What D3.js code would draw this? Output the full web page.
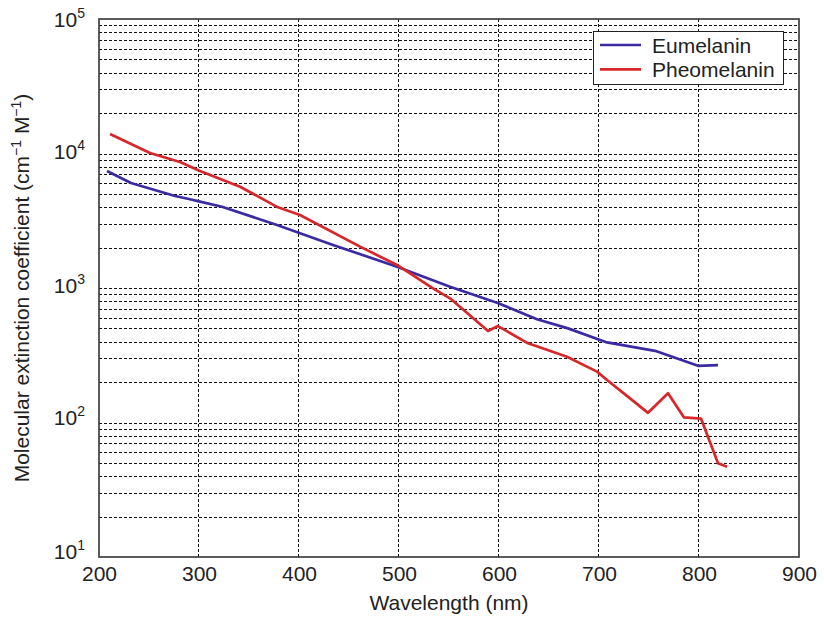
<!DOCTYPE html>
<html>
<head>
<meta charset="utf-8">
<script src="https://cdn.jsdelivr.net/npm/d3@7"></script>
<style>
  body { margin: 0; background: #fff; }
  svg { display: block; font-family: "Liberation Sans", Arial, Helvetica, sans-serif; }
</style>
</head>
<body>
<svg id="chart" width="824" height="617"></svg>
<script>
// ---- data ----
const seriesNames = ["Eumelanin", "Pheomelanin"];
const euWavelength = [208, 232, 276, 291, 301, 323, 378, 434, 498, 551, 598, 638, 669, 708, 756, 799, 819];
const euValues     = [7410, 6040, 4830, 4570, 4390, 4020, 2940, 2090, 1440, 1023, 778, 585, 501, 394, 341, 264, 267];
const pheoWavelength = [211, 251, 281, 301, 341, 379, 401, 461, 498, 534, 551, 589, 599, 629, 668, 698, 708, 731, 749, 769, 785, 802, 819, 828];
const pheoValues     = [13960, 10100, 8650, 7410, 5660, 3980, 3490, 2030, 1483, 995, 838, 479, 521, 388, 308, 239, 207, 151, 118, 165, 109, 107, 49.8, 46.9];
const xTicks = [200, 300, 400, 500, 600, 700, 800, 900];
const yTicks = [10, 100, 1000, 10000, 100000];
const yExponents = ["1", "2", "3", "4", "5"];
const xLabel = "Wavelength (nm)";

// ---- layout ----
const svg = d3.select("#chart");
const m = { left: 99, right: 25, top: 19, bottom: 60 };
const W = 824, H = 617;
const x = d3.scaleLinear().domain([200, 900]).range([m.left, W - m.right]);
const y = d3.scaleLog().domain([10, 100000]).range([H - m.bottom, m.top]);
const colors = ["#3b2ba3", "#d8272a"];
const FS = 21;

// grid lines
const g = svg.append("g");
g.selectAll("line.hgrid").data(y.ticks().filter(v => v > 10 && v < 100000))
  .join("line").attr("class", "hgrid")
  .attr("x1", m.left).attr("x2", W - m.right)
  .attr("y1", d => Math.round(y(d)) + 0.5).attr("y2", d => Math.round(y(d)) + 0.5)
  .attr("stroke", "#111").attr("stroke-width", 1).attr("stroke-dasharray", "3,2");
g.selectAll("line.vgrid").data(xTicks.filter(v => v > 200 && v < 900))
  .join("line").attr("class", "vgrid")
  .attr("x1", d => Math.round(x(d)) - 0.5).attr("x2", d => Math.round(x(d)) - 0.5)
  .attr("y1", m.top).attr("y2", H - m.bottom)
  .attr("stroke", "#111").attr("stroke-width", 1).attr("stroke-dasharray", "3,2");

// series
const line = d3.line().x(d => x(d[0])).y(d => y(d[1]));
const series = [
  d3.zip(euWavelength, euValues),
  d3.zip(pheoWavelength, pheoValues)
];
svg.selectAll("path.series").data(series).join("path").attr("class", "series")
  .attr("d", line).attr("fill", "none")
  .attr("stroke", (d, i) => colors[i]).attr("stroke-width", 2.7)
  .attr("stroke-linejoin", "round");

// frame
svg.append("rect").attr("x", m.left).attr("y", m.top)
  .attr("width", W - m.left - m.right).attr("height", H - m.top - m.bottom)
  .attr("fill", "none").attr("stroke", "#333").attr("stroke-width", 1.6);

// x axis
const xAxis = svg.append("g").attr("transform", `translate(0,${H - m.bottom})`)
  .call(d3.axisBottom(x).tickValues(xTicks).tickSize(0).tickPadding(0).tickFormat(d3.format("d")));
xAxis.select(".domain").remove();
xAxis.selectAll("text").attr("font-size", FS).attr("fill", "#222")
  .attr("y", 24).attr("dy", 0);

// y axis
const yAxis = svg.append("g").attr("transform", `translate(${m.left},0)`)
  .call(d3.axisLeft(y).tickValues(yTicks).tickSize(0).tickPadding(0).tickFormat(() => ""));
yAxis.select(".domain").remove();
yAxis.selectAll("text").each(function(d, i) {
  const t = d3.select(this).attr("x", -14).attr("dy", 0)
    .attr("y", i === 0 ? 1 : (i === 1 ? 1.5 : (i === 4 ? 7.5 : 4.5)))
    .attr("fill", "#222").attr("text-anchor", "end");
  t.append("tspan").attr("font-size", FS).text("10");
  t.append("tspan").attr("font-size", 14).attr("dy", -9).text(yExponents[i]);
});

// axis titles
svg.append("text").attr("x", (m.left + W - m.right) / 2).attr("y", 610)
  .attr("text-anchor", "middle").attr("font-size", FS).attr("fill", "#222").text(xLabel);

const yt = svg.append("text")
  .attr("transform", `translate(29,${(m.top + H - m.bottom) / 2}) rotate(-90)`)
  .attr("text-anchor", "middle").attr("font-size", FS).attr("fill", "#222");
yt.append("tspan").text("Molecular extinction coefficient (cm");
yt.append("tspan").attr("font-size", 14).attr("dy", -8).text("\u22121");
yt.append("tspan").attr("dy", 8).text(" M");
yt.append("tspan").attr("font-size", 14).attr("dy", -8).text("\u22121");
yt.append("tspan").attr("dy", 8).text(")");

// legend
const lg = svg.append("g");
lg.append("rect").attr("x", 593.5).attr("y", 31.5).attr("width", 190).attr("height", 53)
  .attr("fill", "#fff").attr("stroke", "#222").attr("stroke-width", 1);
seriesNames.forEach((name, i) => {
  const ly = 45 + i * 24.3;
  lg.append("line").attr("x1", 600).attr("x2", 641).attr("y1", ly).attr("y2", ly)
    .attr("stroke", colors[i]).attr("stroke-width", 2.7);
  lg.append("text").attr("x", 652).attr("y", ly + 7.5).attr("font-size", FS)
    .attr("fill", "#222").text(name);
});
</script>
</body>
</html>
